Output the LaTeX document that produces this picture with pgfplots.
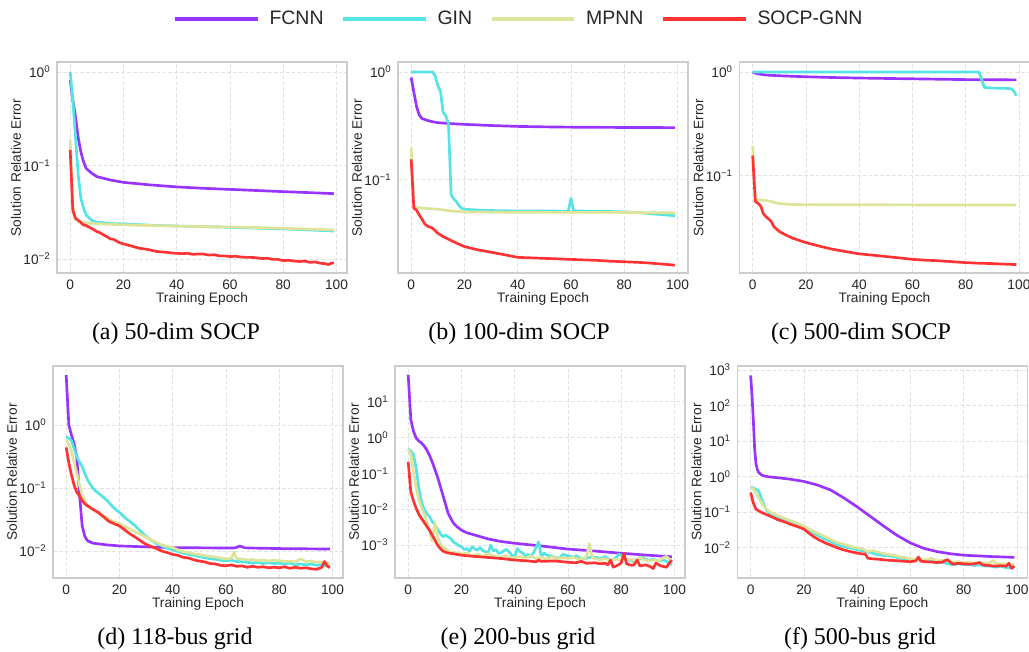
\documentclass[border=0pt]{standalone}
\usepackage{fontspec}
\setmainfont{Liberation Sans}
\newfontfamily\capfont{Liberation Serif}
\usepackage{pgfplots}
\pgfplotsset{compat=1.18}

\definecolor{fcnn}{RGB}{153,51,255}
\definecolor{gin}{RGB}{85,228,228}
\definecolor{mpnn}{RGB}{221,228,153}
\definecolor{socp}{RGB}{255,51,51}
\definecolor{framegray}{RGB}{204,204,204}
\definecolor{gridgray}{RGB}{225,225,225}
\definecolor{labelgray}{RGB}{38,38,38}

\pgfplotsset{
  every axis/.append style={
    scale only axis, width=217.5pt, anchor=north west,
    xmin=-4.95, xmax=103.95,
    xtick={0,20,...,100},
    axis line style={draw=framegray, line width=0.9pt},
    grid=major,
    major grid style={draw=gridgray, line width=0.6pt, dash pattern=on 2.8pt off 1.6pt},
    tick style={draw=none},
    tick label style={font=\fontsize{10.3}{12}\selectfont, text=labelgray},
    xticklabel style={yshift=-1.5pt},
    yticklabel style={xshift=-1.5pt},
    xlabel={Training Epoch}, ylabel={Solution Relative Error},
    label style={font=\fontsize{10.3}{12}\selectfont, text=labelgray},
    xlabel style={at={(axis description cs:0.5,-0.123)}, anchor=center},
    ylabel style={at={(axis description cs:-0.1415,0.5)}, anchor=center},
  },
  every axis plot/.append style={line width=2pt, no markers, line join=round},
  /pgf/number format/assume math mode=true,
}

\begin{document}
\begin{tikzpicture}
\path[use as bounding box] (0,0) rectangle (771.75pt,488.25pt);

% (a) 50-dim SOCP
\begin{semilogyaxis}[height=158.25pt, at={(42.75pt,441.75pt)},
  ymin=0.00708, ymax=1.279,
  ytick={1,0.1,0.01}, yticklabels={10\textsuperscript{0},10\textsuperscript{−1},10\textsuperscript{−2}},
  legend columns=4,
  legend style={at={(axis description cs:1.593,1.205)}, anchor=center, draw=none, fill=none,
    font=\fontsize{14.6}{16}\selectfont, text=labelgray,
    /tikz/every even column/.append style={column sep=11pt}},
  legend cell align=left,
  legend image code/.code={\draw[#1, line width=3pt] (0pt,0pt) -- (62pt,0pt); \path (68pt,0pt);}]
\addplot[fcnn] coordinates {(0,0.82)(1,0.5)(2,0.33)(3,0.2)(4,0.14)(5,0.11)(6,0.093)(8,0.083)(10,0.076)(15,0.07)(20,0.066)(30,0.062)(40,0.059)(50,0.057)(60,0.0555)(70,0.054)(80,0.0525)(90,0.0512)(99,0.050)};
\addplot[gin] coordinates {(0,1.0)(1,0.5)(2,0.2)(3,0.08)(4,0.045)(5,0.035)(6,0.0295)(8,0.026)(10,0.0248)(15,0.024)(20,0.0237)(30,0.023)(40,0.0225)(50,0.0222)(60,0.0218)(70,0.0214)(80,0.021)(90,0.0204)(99,0.0199)};
\addplot[mpnn] coordinates {(0,0.19)(1,0.035)(2,0.027)(3,0.025)(5,0.0245)(10,0.0238)(20,0.0232)(30,0.0228)(40,0.0225)(50,0.0222)(60,0.022)(70,0.0217)(80,0.0213)(90,0.0208)(99,0.0205)};
\addplot[socp] coordinates {(0,0.147)(1,0.033)(2,0.0272)(3,0.026)(4,0.0245)(5,0.0231)(6,0.0228)(7,0.022)(8,0.0212)(9,0.0205)(10,0.0196)(11,0.0192)(12,0.0185)(13,0.0178)(14,0.0172)(15,0.0164)(16,0.0163)(17,0.0158)(18,0.0152)(19,0.0148)(20,0.0145)(22,0.014)(24,0.0135)(26,0.013)(28,0.0128)(30,0.0125)(32,0.0121)(34,0.0119)(36,0.0118)(38,0.0116)(40,0.0115)(42,0.0114)(44,0.0115)(46,0.0112)(48,0.0113)(50,0.0113)(52,0.011)(54,0.0111)(56,0.0108)(58,0.0108)(60,0.0106)(62,0.0107)(64,0.0105)(66,0.0104)(68,0.0104)(70,0.0103)(72,0.0101)(74,0.0102)(76,0.0099)(78,0.0099)(80,0.0096)(82,0.0097)(84,0.0095)(86,0.0094)(88,0.0095)(90,0.0092)(92,0.0093)(94,0.009)(96,0.0089)(97,0.0087)(98,0.009)(99,0.0091)};
\legend{FCNN,GIN,MPNN,SOCP-GNN}
\end{semilogyaxis}

% (b) 100-dim SOCP
\begin{semilogyaxis}[height=158.25pt, at={(298.5pt,441.75pt)},
  ymin=0.01352, ymax=1.239,
  ytick={1,0.1}, yticklabels={10\textsuperscript{0},10\textsuperscript{−1}}]
\addplot[fcnn] coordinates {(0,0.89)(1,0.65)(2,0.48)(3,0.40)(4,0.37)(6,0.355)(8,0.345)(10,0.338)(15,0.331)(20,0.326)(30,0.318)(40,0.312)(50,0.309)(60,0.307)(70,0.306)(80,0.305)(99,0.304)};
\addplot[gin] coordinates {(0,1.0)(8,1.0)(9,0.92)(10,0.75)(11,0.66)(12,0.42)(13,0.39)(14,0.33)(15,0.072)(16,0.066)(17,0.062)(18,0.057)(19,0.054)(20,0.053)(25,0.052)(30,0.0515)(40,0.051)(50,0.051)(59,0.0508)(60,0.067)(61,0.051)(70,0.0508)(80,0.050)(85,0.0495)(90,0.048)(95,0.047)(99,0.046)};
\addplot[mpnn] coordinates {(0,0.198)(1,0.056)(2,0.055)(5,0.054)(10,0.053)(15,0.051)(20,0.050)(30,0.0498)(40,0.0496)(60,0.0495)(80,0.0495)(90,0.0492)(99,0.049)};
\addplot[socp] coordinates {(0,0.154)(1,0.054)(2,0.052)(3,0.047)(4,0.043)(5,0.039)(6,0.037)(8,0.0353)(10,0.0317)(12,0.0295)(15,0.0271)(18,0.025)(20,0.0238)(25,0.0222)(30,0.0211)(35,0.02)(40,0.0189)(45,0.0187)(50,0.0185)(55,0.0183)(60,0.0181)(65,0.0179)(70,0.0177)(75,0.0174)(80,0.0172)(85,0.017)(90,0.0167)(95,0.0163)(99,0.016)};
\end{semilogyaxis}

% (c) 500-dim SOCP
\begin{semilogyaxis}[height=158.25pt, at={(554.6pt,441.75pt)},
  ymin=0.01143, ymax=1.250,
  ytick={1,0.1}, yticklabels={10\textsuperscript{0},10\textsuperscript{−1}}]
\addplot[fcnn] coordinates {(0,0.99)(2,0.96)(5,0.935)(10,0.92)(20,0.90)(30,0.885)(40,0.875)(50,0.867)(60,0.86)(70,0.852)(80,0.845)(90,0.842)(99,0.84)};
\addplot[gin] coordinates {(0,1.0)(85,1.0)(86,0.85)(87,0.71)(90,0.70)(95,0.695)(97,0.69)(98,0.66)(99,0.59)};
\addplot[mpnn] coordinates {(0,0.193)(1,0.059)(3,0.058)(5,0.0575)(7,0.056)(10,0.0535)(15,0.0525)(20,0.0523)(40,0.0522)(60,0.052)(80,0.0519)(99,0.0518)};
\addplot[socp] coordinates {(0,0.156)(1,0.0563)(2,0.054)(3,0.051)(4,0.043)(5,0.04)(6,0.038)(7,0.036)(8,0.032)(10,0.0288)(12,0.027)(15,0.0248)(20,0.0225)(25,0.0208)(30,0.0194)(35,0.0184)(40,0.0175)(45,0.017)(50,0.0165)(55,0.016)(60,0.0155)(65,0.0152)(70,0.015)(75,0.0147)(80,0.0144)(85,0.0142)(90,0.0141)(95,0.0139)(99,0.0138)};
\end{semilogyaxis}

% (d) 118-bus grid
\begin{semilogyaxis}[height=159pt, at={(39.75pt,213.75pt)},
  ymin=0.003715, ymax=8.65,
  ytick={1,0.1,0.01}, yticklabels={10\textsuperscript{0},10\textsuperscript{−1},10\textsuperscript{−2}}]
\addplot[fcnn] coordinates {(0,6.2)(1,1.0)(2,0.69)(3,0.5)(4,0.3)(5,0.08)(6,0.025)(7,0.017)(8,0.0145)(10,0.0133)(15,0.0125)(20,0.012)(30,0.0116)(40,0.0113)(50,0.0112)(63,0.0111)(64,0.0114)(65,0.0119)(66,0.0117)(67,0.0112)(70,0.0111)(80,0.0109)(90,0.0108)(99,0.0107)};
\addplot[gin] coordinates {(0,0.65)(1,0.62)(2,0.56)(3,0.42)(4,0.31)(5,0.26)(6,0.22)(7,0.17)(8,0.135)(9,0.115)(10,0.1)(11,0.09)(12,0.083)(13,0.077)(14,0.071)(15,0.065)(16,0.059)(17,0.053)(18,0.048)(19,0.044)(20,0.041)(22,0.034)(24,0.029)(26,0.025)(28,0.0205)(30,0.017)(32,0.0147)(34,0.013)(36,0.012)(38,0.011)(40,0.0104)(42,0.0098)(44,0.0092)(46,0.0088)(48,0.0085)(50,0.0081)(52,0.0078)(54,0.0075)(56,0.0074)(58,0.0071)(60,0.007)(62,0.0071)(64,0.0068)(66,0.0067)(68,0.0066)(70,0.0064)(72,0.0066)(74,0.0063)(76,0.0065)(78,0.0063)(80,0.0064)(82,0.0062)(84,0.0064)(86,0.006)(88,0.0062)(90,0.006)(92,0.0062)(94,0.0059)(96,0.0061)(98,0.0058)(99,0.0059)};
\addplot[mpnn] coordinates {(0,0.58)(1,0.5)(2,0.38)(3,0.25)(4,0.17)(5,0.11)(6,0.078)(7,0.062)(8,0.054)(10,0.045)(12,0.04)(14,0.036)(16,0.032)(18,0.029)(20,0.027)(22,0.0245)(24,0.0223)(26,0.02)(28,0.0182)(30,0.0166)(32,0.015)(34,0.0136)(36,0.0124)(38,0.0118)(40,0.0113)(42,0.0104)(44,0.0097)(46,0.0094)(48,0.009)(50,0.0087)(52,0.0084)(54,0.0082)(56,0.008)(58,0.0077)(60,0.0075)(62,0.0076)(63,0.0095)(64,0.0076)(66,0.0074)(68,0.0072)(70,0.0073)(72,0.007)(74,0.0072)(76,0.0069)(78,0.0071)(80,0.007)(82,0.0068)(84,0.0069)(86,0.0067)(88,0.0075)(90,0.0068)(92,0.0069)(94,0.0066)(96,0.0067)(98,0.0064)(99,0.0063)};
\addplot[socp] coordinates {(0,0.44)(1,0.25)(2,0.16)(3,0.11)(4,0.085)(5,0.075)(6,0.063)(7,0.056)(8,0.052)(10,0.046)(12,0.041)(14,0.035)(16,0.0295)(18,0.027)(20,0.025)(22,0.0215)(24,0.0186)(26,0.0165)(28,0.0144)(30,0.0127)(32,0.0117)(34,0.0108)(36,0.0099)(38,0.0094)(40,0.0088)(42,0.0085)(44,0.0079)(46,0.0077)(48,0.0072)(50,0.0069)(52,0.0067)(54,0.0063)(56,0.0062)(58,0.0059)(60,0.0058)(62,0.006)(64,0.0057)(66,0.0058)(68,0.0055)(70,0.0057)(72,0.0055)(74,0.0056)(76,0.0054)(78,0.0055)(80,0.0054)(82,0.0056)(84,0.0053)(86,0.0055)(88,0.0053)(90,0.0054)(92,0.0052)(94,0.0051)(96,0.0055)(97,0.0068)(98,0.0058)(99,0.0054)};
\end{semilogyaxis}

% (e) 200-bus grid
\begin{semilogyaxis}[height=159pt, at={(296.25pt,213.75pt)},
  ymin=0.0001202, ymax=98.9,
  ytick={10,1,0.1,0.01,0.001},
  yticklabels={10\textsuperscript{1},10\textsuperscript{0},10\textsuperscript{−1},10\textsuperscript{−2},10\textsuperscript{−3}}]
\addplot[fcnn] coordinates {(0,57)(1,3.1)(2,1.48)(3,0.96)(4,0.8)(5,0.70)(6,0.58)(7,0.45)(8,0.32)(9,0.21)(10,0.13)(11,0.08)(12,0.045)(13,0.025)(14,0.014)(15,0.0077)(16,0.0055)(17,0.0041)(18,0.0034)(20,0.0026)(22,0.0022)(25,0.0019)(30,0.00148)(35,0.00125)(40,0.00112)(50,0.00094)(60,0.00077)(70,0.00068)(80,0.00059)(90,0.00052)(99,0.00047)};
\addplot[gin] coordinates {(0,0.48)(1,0.42)(2,0.33)(3,0.14)(4,0.039)(5,0.016)(6,0.0098)(7,0.0075)(8,0.0062)(9,0.0045)(10,0.0037)(11,0.0028)(12,0.0021)(13,0.0017)(14,0.0019)(15,0.0017)(16,0.0015)(17,0.0012)(18,0.0011)(19,0.00095)(20,0.0009)(21,0.00075)(22,0.0008)(23,0.00068)(24,0.0009)(25,0.00078)(26,0.00072)(27,0.00085)(28,0.0007)(29,0.00065)(30,0.0006)(31,0.001)(32,0.00068)(33,0.00075)(34,0.00058)(35,0.00062)(36,0.0007)(37,0.00075)(38,0.00062)(39,0.00052)(40,0.00048)(41,0.0008)(42,0.00065)(43,0.0006)(44,0.0005)(45,0.00055)(46,0.00048)(47,0.0006)(48,0.00085)(49,0.00123)(50,0.00046)(51,0.0006)(52,0.00052)(54,0.0005)(55,0.00045)(57,0.00043)(58,0.00055)(60,0.0005)(62,0.00046)(63,0.0005)(65,0.00042)(67,0.00043)(69,0.00047)(71,0.00045)(72,0.0004)(74,0.00048)(76,0.00036)(78,0.00044)(79,0.00055)(80,0.00052)(81,0.00042)(83,0.00038)(85,0.00034)(87,0.00042)(88,0.00045)(90,0.00038)(92,0.0004)(94,0.00036)(96,0.00038)(98,0.00032)(99,0.00028)};
\addplot[mpnn] coordinates {(0,0.48)(1,0.33)(2,0.11)(3,0.039)(4,0.018)(5,0.011)(6,0.0075)(7,0.0045)(8,0.0025)(9,0.0013)(10,0.0043)(11,0.0018)(12,0.0011)(13,0.00085)(14,0.0008)(15,0.0007)(16,0.0006)(17,0.00065)(18,0.00058)(19,0.00062)(20,0.00055)(22,0.0006)(24,0.0005)(26,0.00055)(28,0.00048)(30,0.00058)(32,0.0005)(34,0.00045)(36,0.0005)(38,0.00046)(40,0.00044)(42,0.00048)(44,0.00043)(46,0.0005)(48,0.00042)(50,0.00046)(52,0.0004)(54,0.00048)(56,0.0004)(58,0.00045)(60,0.00042)(62,0.00046)(64,0.0004)(66,0.00043)(67,0.00048)(68,0.0011)(69,0.00048)(70,0.00042)(72,0.00038)(74,0.00042)(76,0.00036)(78,0.0004)(80,0.00038)(82,0.00042)(84,0.00038)(86,0.0004)(87,0.00047)(88,0.0004)(90,0.00036)(92,0.00038)(94,0.00036)(96,0.00045)(97,0.00048)(98,0.0004)(99,0.00036)};
\addplot[socp] coordinates {(0,0.21)(1,0.03)(2,0.017)(3,0.0105)(4,0.0072)(5,0.0055)(6,0.0043)(7,0.0033)(8,0.0026)(9,0.0019)(10,0.0014)(11,0.001)(12,0.0008)(13,0.00068)(14,0.00063)(15,0.0006)(17,0.00057)(20,0.00052)(25,0.00048)(30,0.00045)(35,0.00042)(40,0.00038)(45,0.00036)(48,0.00034)(49,0.00038)(50,0.00035)(55,0.00036)(60,0.00033)(63,0.00032)(65,0.00035)(67,0.00031)(70,0.00032)(72,0.0003)(74,0.00031)(75,0.00028)(76,0.00038)(77,0.00024)(79,0.00028)(80,0.00032)(81,0.00058)(82,0.0003)(84,0.00027)(85,0.00029)(86,0.00038)(87,0.00026)(89,0.00028)(91,0.00025)(92,0.00022)(93,0.00031)(95,0.00026)(97,0.00024)(98,0.00031)(99,0.00038)};
\end{semilogyaxis}

% (f) 500-bus grid
\begin{semilogyaxis}[height=159pt, at={(553.1pt,213.75pt)},
  ymin=0.00139, ymax=1300,
  ytick={1000,100,10,1,0.1,0.01},
  yticklabels={10\textsuperscript{3},10\textsuperscript{2},10\textsuperscript{1},10\textsuperscript{0},10\textsuperscript{−1},10\textsuperscript{−2}}]
\addplot[fcnn] coordinates {(0,708)(0.5,200)(1,40)(1.5,6)(2,2.3)(2.5,1.6)(3,1.3)(4,1.12)(5,1.04)(7,0.98)(10,0.93)(15,0.84)(20,0.73)(25,0.58)(30,0.42)(35,0.25)(40,0.14)(45,0.075)(50,0.04)(55,0.022)(60,0.0135)(65,0.0095)(70,0.0077)(75,0.0067)(80,0.0061)(90,0.0056)(99,0.0053)};
\addplot[gin] coordinates {(0,0.52)(1,0.48)(2,0.44)(3,0.4)(4,0.25)(5,0.16)(6,0.11)(7,0.095)(9,0.076)(12,0.063)(14,0.055)(17,0.045)(20,0.036)(23,0.027)(27,0.0187)(30,0.0145)(33,0.0114)(36,0.0102)(40,0.0088)(42,0.008)(44,0.0075)(46,0.0069)(48,0.0063)(50,0.006)(52,0.0058)(54,0.0055)(56,0.005)(58,0.0049)(60,0.0046)(62,0.0044)(63,0.0049)(64,0.0043)(66,0.0042)(68,0.0041)(70,0.0037)(72,0.0039)(74,0.0035)(76,0.0033)(78,0.0035)(80,0.0033)(82,0.0034)(84,0.0031)(86,0.0033)(88,0.003)(90,0.003)(92,0.0028)(94,0.003)(96,0.0027)(98,0.0027)(99,0.0029)};
\addplot[mpnn] coordinates {(0,0.52)(1,0.45)(2,0.35)(3,0.25)(4,0.19)(5,0.14)(6,0.12)(8,0.094)(11,0.075)(14,0.061)(17,0.05)(20,0.04)(23,0.03)(27,0.022)(30,0.017)(33,0.0135)(36,0.0118)(38,0.0105)(40,0.0098)(42,0.0092)(44,0.0078)(46,0.0082)(48,0.0074)(50,0.0068)(52,0.0063)(54,0.006)(56,0.0055)(58,0.0052)(60,0.0048)(62,0.0047)(64,0.0045)(66,0.0046)(68,0.005)(70,0.0042)(72,0.0044)(74,0.0042)(76,0.0039)(78,0.004)(80,0.0037)(82,0.0039)(84,0.0036)(86,0.0037)(88,0.0035)(90,0.0038)(91,0.0044)(92,0.0036)(94,0.0034)(96,0.0035)(98,0.0033)(99,0.0033)};
\addplot[socp] coordinates {(0,0.355)(1,0.18)(2,0.12)(4,0.098)(7,0.079)(10,0.062)(13,0.052)(15,0.045)(18,0.038)(20,0.033)(22,0.025)(24,0.0195)(26,0.016)(28,0.0135)(30,0.0118)(32,0.0102)(34,0.009)(36,0.0082)(38,0.0075)(40,0.007)(42,0.0066)(43,0.0066)(44,0.005)(46,0.0048)(48,0.0047)(50,0.0045)(52,0.0044)(54,0.0043)(56,0.0042)(58,0.0041)(60,0.004)(62,0.0042)(63,0.0054)(64,0.0041)(66,0.004)(68,0.0039)(70,0.0038)(72,0.0039)(74,0.0046)(75,0.0038)(76,0.0034)(78,0.0036)(80,0.0035)(82,0.0034)(84,0.0035)(86,0.0038)(87,0.0033)(88,0.0032)(90,0.0031)(92,0.003)(94,0.0031)(96,0.003)(97,0.0036)(98,0.0026)(99,0.003)};
\end{semilogyaxis}

% captions
\begin{scope}[every node/.style={font=\capfont\fontsize{18}{20}\selectfont, text=black, anchor=center}]
\node at (132pt,237.75pt) {(a) 50-dim SOCP};
\node at (389.25pt,237.75pt) {(b) 100-dim SOCP};
\node at (645.75pt,237.75pt) {(c) 500-dim SOCP};
\node at (131.25pt,9pt) {(d) 118-bus grid};
\node at (388.5pt,9pt) {(e) 200-bus grid};
\node at (645pt,9pt) {(f) 500-bus grid};
\end{scope}
\end{tikzpicture}
\end{document}
